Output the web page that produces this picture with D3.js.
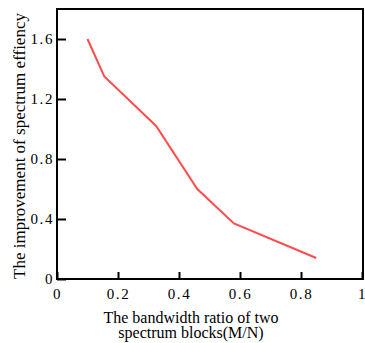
<!DOCTYPE html>
<html>
<head>
<meta charset="utf-8">
<script src="https://cdn.jsdelivr.net/npm/d3@7"></script>
<style>
  body { margin: 0; background: #fff; }
  svg { display: block; }
  text { font-family: "Liberation Serif", "DejaVu Serif", serif; fill: #000; }
</style>
</head>
<body>
<svg id="chart"></svg>
<script>
// data
const ratios      = [0.1, 0.155, 0.325, 0.46, 0.58, 0.85];
const improvement = [1.6, 1.35, 1.02, 0.6, 0.37, 0.14];
const xTickVals   = [0, 0.2, 0.4, 0.6, 0.8, 1];
const xTickText   = ['0', '0.2', '0.4', '0.6', '0.8', '1'];
const yTickVals   = [0, 0.4, 0.8, 1.2, 1.6];
const yTickText   = ['0', '0.4', '0.8', '1.2', '1.6'];

let width    = 365,
    height   = 343,
    padLeft  = 57,
    padRight = 363,
    padTop   = 9,
    padBot   = 279,
    xScale   = d3.scaleLinear().domain([0, 1]).range([padLeft, padLeft + 305]),
    yScale   = d3.scaleLinear().domain([0, 1.8]).range([padBot, padTop]),
    svg      = d3.select('#chart').attr('width', width).attr('height', height);

let styleTicks = g => g
    .call(g => g.select('.domain').remove())
    .call(g => g.selectAll('line').attr('stroke', '#000').attr('stroke-width', 2))
    .call(g => g.selectAll('text')
        .attr('font-size', 15)
        .attr('letter-spacing', 1.6)
        .attr('font-family', '"Liberation Serif", serif'));

// x axis: ticks point inward, labels below
svg.append('g')
    .attr('transform', `translate(0, ${padBot})`)
    .call(d3.axisBottom(xScale)
        .tickValues(xTickVals)
        .tickFormat((d, i) => xTickText[i])
        .tickSizeInner(-7)
        .tickSizeOuter(0)
        .tickPadding(9))
    .call(styleTicks);

svg.append('g')
    .attr('transform', `translate(${padLeft}, 0)`)
    .call(d3.axisLeft(yScale)
        .tickValues(yTickVals)
        .tickFormat((d, i) => yTickText[i])
        .tickSizeInner(-9)
        .tickSizeOuter(0)
        .tickPadding(3))
    .call(styleTicks);

// frame
svg.append('rect')
    .attr('x', padLeft)
    .attr('y', padTop)
    .attr('width', padRight - padLeft)
    .attr('height', padBot - padTop)
    .attr('fill', 'none')
    .attr('stroke', '#000')
    .attr('stroke-width', 2);

// line
let line = d3.line()
    .x((d, i) => xScale(ratios[i]))
    .y(d => yScale(d));

svg.append('path')
    .datum(improvement)
    .attr('d', line)
    .attr('fill', 'none')
    .attr('stroke', '#ff4c4c')
    .attr('stroke-width', 2);

// axis titles
svg.append('text')
    .attr('transform', `translate(25, 146) rotate(-90)`)
    .attr('text-anchor', 'middle')
    .attr('font-size', 17)
    .text('The improvement of  spectrum effiency');

svg.append('text')
    .attr('x', 191)
    .attr('y', 323)
    .attr('text-anchor', 'middle')
    .attr('font-size', 16)
    .text('The bandwidth ratio of two');

svg.append('text')
    .attr('x', 191)
    .attr('y', 338)
    .attr('text-anchor', 'middle')
    .attr('font-size', 16)
    .text('spectrum blocks(M/N)');
</script>
</body>
</html>
